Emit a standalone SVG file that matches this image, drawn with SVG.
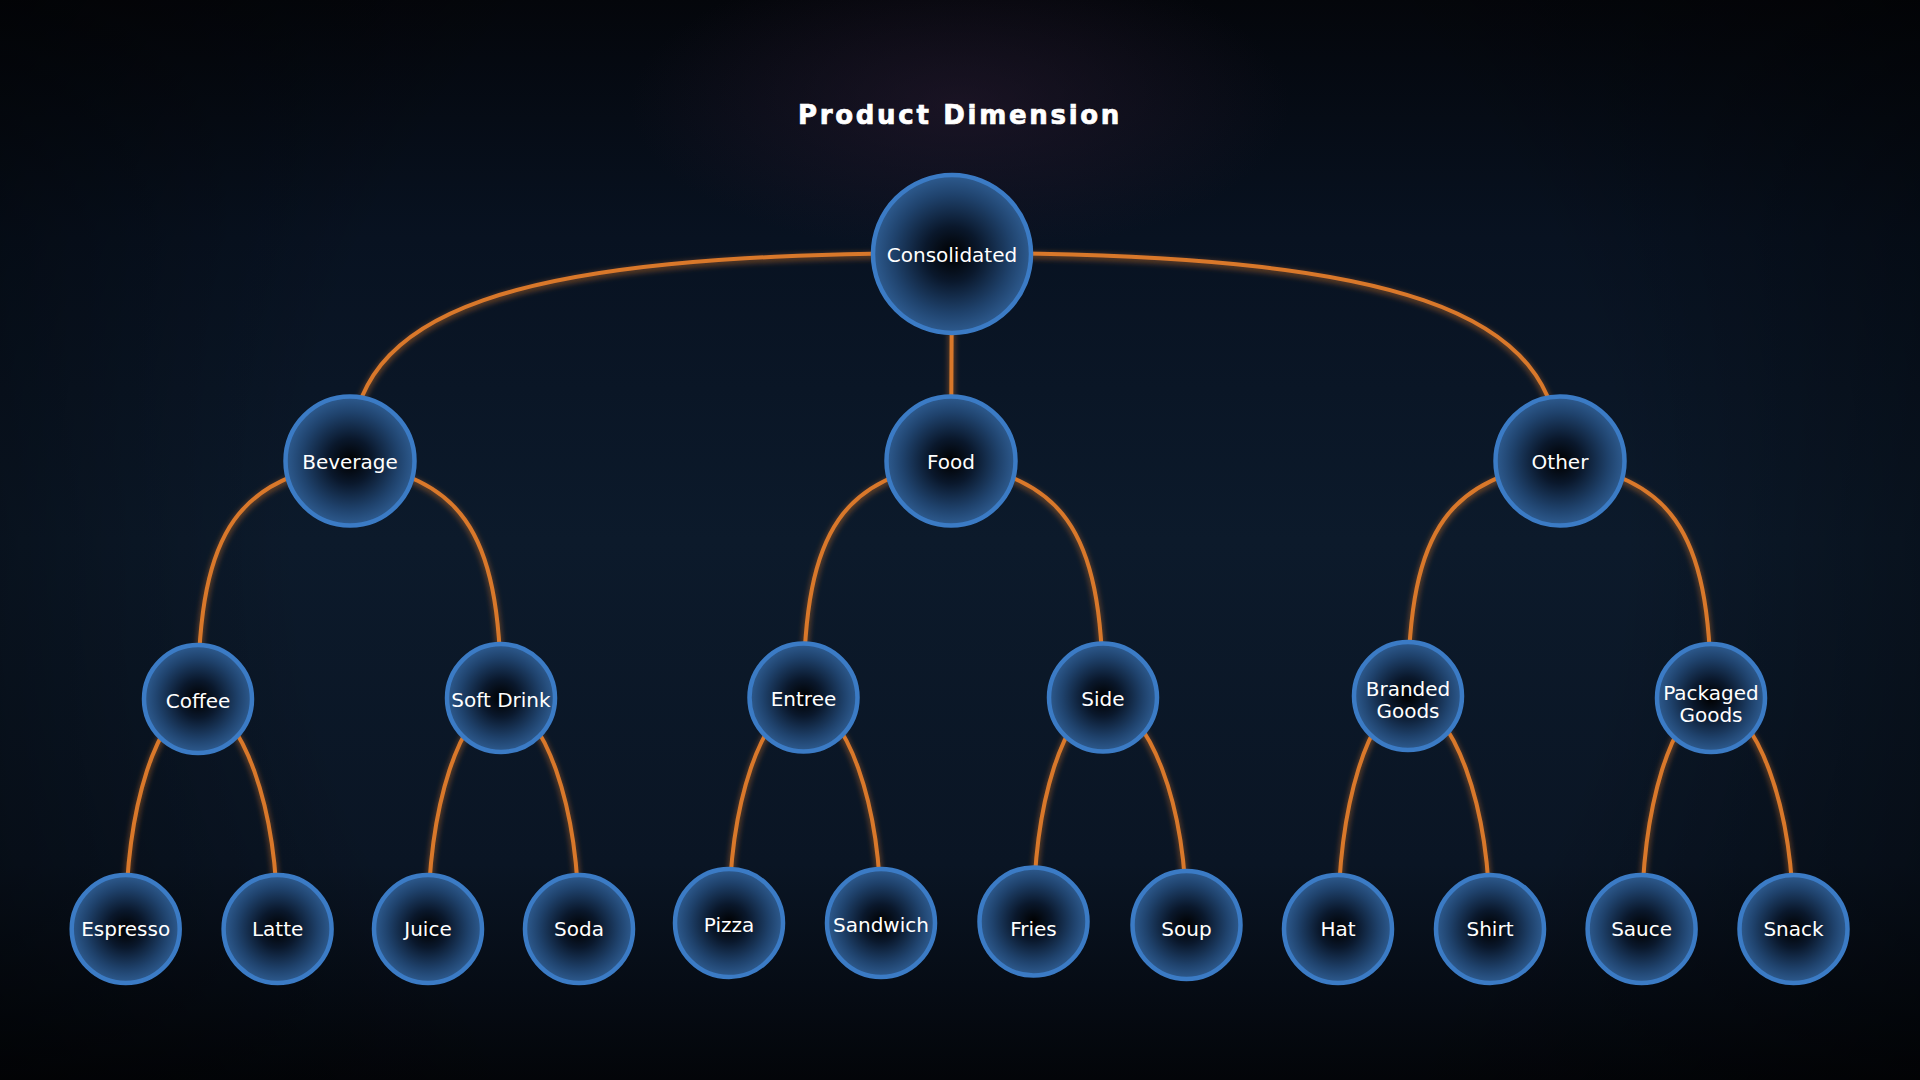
<svg xmlns="http://www.w3.org/2000/svg" width="1920" height="1080" viewBox="0 0 1920 1080">
  <defs>
    <linearGradient id="bg" x1="0" y1="0" x2="0" y2="1">
      <stop offset="0" stop-color="#04060b"/>
      <stop offset="0.22" stop-color="#081221"/>
      <stop offset="0.5" stop-color="#0c1a2b"/>
      <stop offset="0.8" stop-color="#0a1524"/>
      <stop offset="1" stop-color="#030509"/>
    </linearGradient>
    <radialGradient id="titleGlow" cx="960" cy="105" r="330" gradientUnits="userSpaceOnUse" gradientTransform="translate(960 105) scale(1 0.45) translate(-960 -105)">
      <stop offset="0" stop-color="#2a1a30" stop-opacity="0.55"/>
      <stop offset="1" stop-color="#2a1a30" stop-opacity="0"/>
    </radialGradient>
    <radialGradient id="vignette" cx="960" cy="540" r="1100" gradientUnits="userSpaceOnUse">
      <stop offset="0.6" stop-color="#000" stop-opacity="0"/>
      <stop offset="1" stop-color="#000" stop-opacity="0.45"/>
    </radialGradient>
    <radialGradient id="nodeFill" cx="0.5" cy="0.5" r="0.5">
      <stop offset="0" stop-color="#000000"/>
      <stop offset="0.35" stop-color="#0a182c"/>
      <stop offset="0.75" stop-color="#1f426c"/>
      <stop offset="1" stop-color="#2e5b8f"/>
    </radialGradient>
    <filter id="glow" x="-10%" y="-10%" width="120%" height="120%">
      <feGaussianBlur in="SourceGraphic" stdDeviation="3" result="b"/>
      <feOffset in="b" dx="0" dy="2" result="o"/>
      <feComponentTransfer in="o" result="g"><feFuncA type="linear" slope="0.7"/></feComponentTransfer>
      <feMerge><feMergeNode in="g"/><feMergeNode in="SourceGraphic"/></feMerge>
    </filter>
    <style>
      .edge{fill:none;stroke:#d9782c;stroke-width:4;stroke-linecap:round;}
      .node circle{fill:url(#nodeFill);stroke:#3b7bc5;stroke-width:4.5;}
      .node text{font-family:"DejaVu Sans","Liberation Sans",sans-serif;font-size:20px;fill:#ffffff;text-anchor:middle;}
      .title{font-family:"DejaVu Sans","Liberation Sans",sans-serif;font-size:26px;font-weight:bold;fill:#ffffff;stroke:#ffffff;stroke-width:0.7px;text-anchor:middle;letter-spacing:2.7px;}
    </style>
  </defs>

  <rect width="1920" height="1080" fill="url(#bg)"/>
  <rect width="1920" height="1080" fill="url(#titleGlow)"/>
  <rect width="1920" height="1080" fill="url(#vignette)"/>

  <text class="title" x="960" y="124">Product Dimension</text>

  <g id="connectors" filter="url(#glow)">
    <path class="edge" d="M952 253 C504 253 350 310 350 461"/>
    <path class="edge" d="M952 253 L951 461"/>
    <path class="edge" d="M952 253 C1400 253 1560 310 1560 461"/>

    <path class="edge" d="M350 461 C243.6 480 198 520.5 198 699"/>
    <path class="edge" d="M350 461 C455.7 480 501 520.3 501 698"/>
    <path class="edge" d="M951 461 C847.8 479.9 803.5 520.1 803.5 697.5"/>
    <path class="edge" d="M951 461 C1057.4 479.9 1103 520.1 1103 697.5"/>
    <path class="edge" d="M1560 461 C1453.6 479.8 1408 519.8 1408 696"/>
    <path class="edge" d="M1560 461 C1665.7 480 1711 520.3 1711 698"/>

    <path class="edge" d="M198 699 C158.2 710.5 125.7 802.5 125.7 929"/>
    <path class="edge" d="M198 699 C241.8 710.5 277.6 802.5 277.6 929"/>
    <path class="edge" d="M501 698 C460.9 709.5 428 802 428 929"/>
    <path class="edge" d="M501 698 C543.9 709.5 579 802 579 929"/>
    <path class="edge" d="M803.5 697.5 C762.5 709 729 799 729 923"/>
    <path class="edge" d="M803.5 697.5 C846.1 709 881 799 881 923"/>
    <path class="edge" d="M1103 697.5 C1064.8 709 1033.5 798.3 1033.5 921.5"/>
    <path class="edge" d="M1103 697.5 C1148.9 709 1186.5 799.9 1186.5 925"/>
    <path class="edge" d="M1408 696 C1369.5 707.5 1338 800.9 1338 929"/>
    <path class="edge" d="M1408 696 C1453.1 707.5 1490 800.9 1490 929"/>
    <path class="edge" d="M1711 698 C1672.8 709.5 1641.6 802 1641.6 929"/>
    <path class="edge" d="M1711 698 C1756.4 709.5 1793.5 802 1793.5 929"/>
  </g>

  <g id="node-consolidated" class="node"><circle cx="952" cy="254" r="79" stroke-width="5"/><text x="952" y="261.5">Consolidated</text></g>

  <g id="node-beverage" class="node"><circle cx="350" cy="461" r="64.5"/><text x="350" y="469.3">Beverage</text></g>
  <g id="node-food" class="node"><circle cx="951" cy="461" r="64.5"/><text x="951" y="469.3">Food</text></g>
  <g id="node-other" class="node"><circle cx="1560" cy="461" r="64.5"/><text x="1560" y="469.3">Other</text></g>

  <g id="node-coffee" class="node"><circle cx="198" cy="699" r="54"/><text x="198" y="708.3">Coffee</text></g>
  <g id="node-soft-drink" class="node"><circle cx="501" cy="698" r="54"/><text x="501" y="706.8">Soft Drink</text></g>
  <g id="node-entree" class="node"><circle cx="803.5" cy="697.5" r="54"/><text x="803.5" y="705.6">Entree</text></g>
  <g id="node-side" class="node"><circle cx="1103" cy="697.5" r="54"/><text x="1103" y="705.6">Side</text></g>
  <g id="node-branded-goods" class="node"><circle cx="1408" cy="696" r="54"/><text x="1408" y="695.5"><tspan x="1408" y="695.5">Branded</tspan><tspan x="1408" y="717.5">Goods</tspan></text></g>
  <g id="node-packaged-goods" class="node"><circle cx="1711" cy="698" r="54"/><text x="1711" y="700"><tspan x="1711" y="700">Packaged</tspan><tspan x="1711" y="722">Goods</tspan></text></g>

  <g id="node-espresso" class="node"><circle cx="125.7" cy="929" r="54"/><text x="125.7" y="935.7">Espresso</text></g>
  <g id="node-latte" class="node"><circle cx="277.6" cy="929" r="54"/><text x="277.6" y="935.7">Latte</text></g>
  <g id="node-juice" class="node"><circle cx="428" cy="929" r="54"/><text x="428" y="935.7">Juice</text></g>
  <g id="node-soda" class="node"><circle cx="579" cy="929" r="54"/><text x="579" y="935.7">Soda</text></g>
  <g id="node-pizza" class="node"><circle cx="729" cy="923" r="54"/><text x="729" y="932">Pizza</text></g>
  <g id="node-sandwich" class="node"><circle cx="881" cy="923" r="54"/><text x="881" y="932">Sandwich</text></g>
  <g id="node-fries" class="node"><circle cx="1033.5" cy="921.5" r="54"/><text x="1033.5" y="935.7">Fries</text></g>
  <g id="node-soup" class="node"><circle cx="1186.5" cy="925" r="54"/><text x="1186.5" y="935.7">Soup</text></g>
  <g id="node-hat" class="node"><circle cx="1338" cy="929" r="54"/><text x="1338" y="935.7">Hat</text></g>
  <g id="node-shirt" class="node"><circle cx="1490" cy="929" r="54"/><text x="1490" y="935.7">Shirt</text></g>
  <g id="node-sauce" class="node"><circle cx="1641.6" cy="929" r="54"/><text x="1641.6" y="935.7">Sauce</text></g>
  <g id="node-snack" class="node"><circle cx="1793.5" cy="929" r="54"/><text x="1793.5" y="935.7">Snack</text></g>
</svg>
